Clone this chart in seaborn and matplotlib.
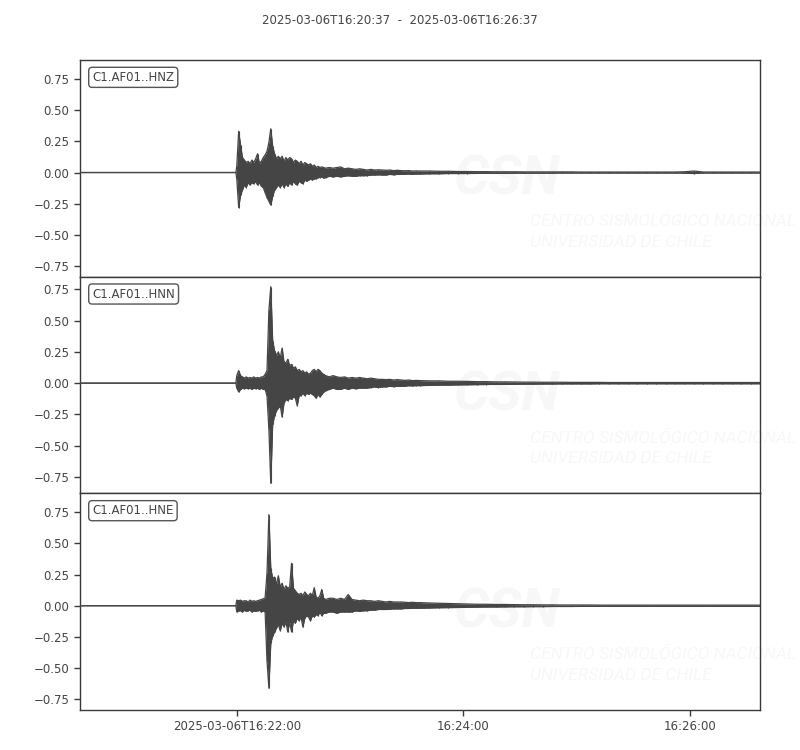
import numpy as np
import pandas as pd
import matplotlib
matplotlib.use("Agg")
import matplotlib.pyplot as plt
import seaborn as sns

# ---------------- data (seconds after 2025-03-06T16:20:37) ----------------
title = "2025-03-06T16:20:37  -  2025-03-06T16:26:37"
channels = ["C1.AF01..HNZ", "C1.AF01..HNN", "C1.AF01..HNE"]
tick_pos = [83, 203, 323]
tick_labels = ["2025-03-06T16:22:00", "16:24:00", "16:26:00"]
ytick_vals = [-0.75, -0.5, -0.25, 0.0, 0.25, 0.5, 0.75]
ylims = [(-0.833, 0.90), (-0.88, 0.85), (-0.835, 0.90)]

times = [0, 82.5,
         83, 84, 85, 86, 87, 88, 89, 90, 91, 92,
         93, 94, 95, 96, 97, 98, 99, 100, 101, 102,
         103, 104, 105, 106, 107, 108, 109, 110, 111, 112,
         113, 114, 115, 116, 117, 118, 119, 120, 121, 122,
         123, 124, 125, 126, 127, 128, 129, 130,
         132, 134, 136, 138, 140, 142, 144, 146, 148, 150,
         152, 154, 156, 158, 160, 162, 164, 166, 168, 170,
         172, 174, 176, 178, 180,
         185, 190, 195, 200, 205, 210, 215, 220, 225, 230,
         235, 240, 245, 250, 255, 260, 265, 270, 275, 280,
         285, 290, 295, 300, 305, 310, 315, 320, 325, 330,
         335, 340, 345, 350, 355, 360]

hnz_top = [0, 0,
           0.05, 0.33, 0.22, 0.12, 0.10, 0.08, 0.09, 0.07, 0.10, 0.08,
           0.11, 0.15, 0.07, 0.09, 0.12, 0.14, 0.17, 0.24, 0.35, 0.21,
           0.15, 0.11, 0.13, 0.11, 0.13, 0.09, 0.12, 0.10, 0.12, 0.11,
           0.08, 0.10, 0.09, 0.07, 0.09, 0.06, 0.08, 0.07, 0.06, 0.07,
           0.05, 0.06, 0.04, 0.05, 0.04, 0.045, 0.04, 0.035,
           0.04, 0.035, 0.04, 0.045, 0.03, 0.035, 0.03, 0.025, 0.03, 0.025,
           0.02, 0.025, 0.02, 0.022, 0.02, 0.018, 0.02, 0.015, 0.018, 0.015,
           0.014, 0.015, 0.012, 0.013, 0.012,
           0.012, 0.01, 0.01, 0.008, 0.008, 0.007, 0.007, 0.006, 0.006, 0.006,
           0.005, 0.005, 0.005, 0.005, 0.005, 0.005, 0.004, 0.004, 0.004, 0.004,
           0.004, 0.004, 0.004, 0.004, 0.004, 0.004, 0.004, 0.006, 0.012, 0.004,
           0.004, 0.004, 0.004, 0.004, 0.004, 0.004]
hnz_bot = [0, 0,
           -0.05, -0.28, -0.18, -0.14, -0.10, -0.12, -0.08, -0.10, -0.08, -0.09,
           -0.07, -0.10, -0.08, -0.11, -0.12, -0.16, -0.20, -0.23, -0.26, -0.19,
           -0.14, -0.12, -0.10, -0.12, -0.09, -0.12, -0.09, -0.11, -0.08, -0.10,
           -0.07, -0.09, -0.10, -0.07, -0.08, -0.09, -0.06, -0.07, -0.06, -0.05,
           -0.06, -0.05, -0.05, -0.04, -0.04, -0.035, -0.045, -0.04,
           -0.03, -0.035, -0.03, -0.035, -0.03, -0.025, -0.03, -0.03, -0.025, -0.025,
           -0.025, -0.02, -0.02, -0.018, -0.02, -0.02, -0.015, -0.018, -0.015, -0.015,
           -0.014, -0.012, -0.014, -0.012, -0.012,
           -0.01, -0.01, -0.008, -0.008, -0.008, -0.007, -0.006, -0.006, -0.006, -0.005,
           -0.005, -0.005, -0.005, -0.005, -0.004, -0.004, -0.004, -0.004, -0.004, -0.004,
           -0.004, -0.004, -0.004, -0.004, -0.004, -0.004, -0.004, -0.005, -0.008, -0.004,
           -0.004, -0.004, -0.004, -0.004, -0.004, -0.004]

hnn_top = [0, 0,
           0.06, 0.10, 0.06, 0.05, 0.04, 0.05, 0.04, 0.045, 0.04, 0.05,
           0.04, 0.045, 0.04, 0.05, 0.05, 0.07, 0.10, 0.58, 0.77, 0.34,
           0.26, 0.22, 0.25, 0.20, 0.28, 0.17, 0.16, 0.19, 0.14, 0.15,
           0.12, 0.13, 0.10, 0.11, 0.09, 0.10, 0.08, 0.09, 0.07, 0.08,
           0.10, 0.11, 0.09, 0.11, 0.10, 0.08, 0.07, 0.06,
           0.05, 0.06, 0.05, 0.045, 0.05, 0.04, 0.045, 0.04, 0.045, 0.04,
           0.035, 0.04, 0.035, 0.03, 0.03, 0.028, 0.03, 0.025, 0.028, 0.025,
           0.022, 0.025, 0.02, 0.022, 0.02,
           0.018, 0.018, 0.015, 0.015, 0.014, 0.012, 0.012, 0.01, 0.01, 0.009,
           0.008, 0.008, 0.007, 0.007, 0.007, 0.006, 0.006, 0.006, 0.006, 0.005,
           0.005, 0.005, 0.005, 0.005, 0.005, 0.005, 0.005, 0.005, 0.005, 0.005,
           0.005, 0.005, 0.005, 0.005, 0.005, 0.005]
hnn_bot = [0, 0,
           -0.04, -0.07, -0.05, -0.04, -0.045, -0.04, -0.045, -0.04, -0.05, -0.04,
           -0.045, -0.04, -0.05, -0.04, -0.05, -0.05, -0.10, -0.37, -0.80, -0.33,
           -0.26, -0.22, -0.20, -0.18, -0.27, -0.16, -0.13, -0.14, -0.12, -0.13,
           -0.11, -0.12, -0.18, -0.10, -0.10, -0.08, -0.10, -0.08, -0.09, -0.08,
           -0.09, -0.10, -0.12, -0.09, -0.11, -0.09, -0.07, -0.06,
           -0.05, -0.04, -0.05, -0.05, -0.04, -0.05, -0.04, -0.045, -0.04, -0.04,
           -0.04, -0.035, -0.03, -0.035, -0.03, -0.03, -0.025, -0.028, -0.025, -0.025,
           -0.025, -0.02, -0.022, -0.02, -0.02,
           -0.018, -0.016, -0.016, -0.014, -0.013, -0.012, -0.011, -0.01, -0.01, -0.009,
           -0.008, -0.008, -0.007, -0.007, -0.006, -0.006, -0.006, -0.006, -0.005, -0.005,
           -0.005, -0.005, -0.005, -0.005, -0.005, -0.005, -0.005, -0.005, -0.005, -0.005,
           -0.005, -0.005, -0.005, -0.005, -0.005, -0.005]

hne_top = [0, 0,
           0.045, 0.04, 0.045, 0.035, 0.04, 0.04, 0.03, 0.045, 0.035, 0.04,
           0.035, 0.04, 0.045, 0.05, 0.055, 0.065, 0.26, 0.73, 0.30, 0.22,
           0.23, 0.17, 0.24, 0.15, 0.18, 0.13, 0.16, 0.14, 0.15, 0.34,
           0.14, 0.12, 0.10, 0.09, 0.10, 0.08, 0.11, 0.09, 0.08, 0.10,
           0.08, 0.145, 0.07, 0.06, 0.08, 0.13, 0.06, 0.05,
           0.06, 0.06, 0.05, 0.06, 0.05, 0.09, 0.05, 0.045, 0.04, 0.045,
           0.04, 0.04, 0.035, 0.04, 0.035, 0.03, 0.035, 0.03, 0.03, 0.03,
           0.028, 0.025, 0.028, 0.025, 0.025,
           0.022, 0.02, 0.018, 0.016, 0.014, 0.012, 0.012, 0.01, 0.01, 0.009,
           0.008, 0.008, 0.007, 0.007, 0.006, 0.006, 0.006, 0.006, 0.005, 0.005,
           0.005, 0.005, 0.005, 0.005, 0.005, 0.005, 0.005, 0.005, 0.005, 0.005,
           0.005, 0.005, 0.005, 0.005, 0.005, 0.005]
hne_bot = [0, 0,
           -0.05, -0.04, -0.04, -0.05, -0.035, -0.045, -0.04, -0.035, -0.05, -0.04,
           -0.045, -0.04, -0.035, -0.05, -0.04, -0.05, -0.44, -0.66, -0.30, -0.24,
           -0.21, -0.18, -0.15, -0.20, -0.14, -0.17, -0.13, -0.21, -0.13, -0.21,
           -0.12, -0.14, -0.10, -0.12, -0.09, -0.17, -0.10, -0.08, -0.09, -0.12,
           -0.08, -0.09, -0.07, -0.08, -0.05, -0.08, -0.06, -0.06,
           -0.05, -0.05, -0.06, -0.05, -0.05, -0.05, -0.05, -0.04, -0.045, -0.04,
           -0.04, -0.035, -0.035, -0.03, -0.03, -0.03, -0.028, -0.025, -0.025, -0.025,
           -0.022, -0.022, -0.02, -0.02, -0.02,
           -0.018, -0.016, -0.015, -0.014, -0.012, -0.011, -0.01, -0.01, -0.009, -0.008,
           -0.008, -0.007, -0.007, -0.006, -0.006, -0.006, -0.005, -0.005, -0.005, -0.005,
           -0.005, -0.005, -0.005, -0.005, -0.005, -0.005, -0.005, -0.005, -0.005, -0.005,
           -0.005, -0.005, -0.005, -0.005, -0.005, -0.005]

tops = [hnz_top, hnn_top, hne_top]
bots = [hnz_bot, hnn_bot, hne_bot]

# ---------------- style ----------------
sns.set_style("ticks")
plt.rcParams["font.family"] = ["DejaVu Sans"]
plt.rcParams.update({
    "axes.edgecolor": "#3a3a3a",
    "axes.linewidth": 1.0,
    "xtick.color": "#3a3a3a",
    "ytick.color": "#3a3a3a",
    "xtick.labelcolor": "#444444",
    "ytick.labelcolor": "#444444",
    "text.color": "#444444",
})

trace_color = "#454545"
wm_color = "#f7f7f7"
wm_font = ["Liberation Sans Narrow", "Roboto", "DejaVu Sans"]

fig, axes = plt.subplots(3, 1, figsize=(8, 7.5), dpi=100, sharex=True)
fig.subplots_adjust(left=0.1, right=0.95, top=0.92, bottom=0.0533, hspace=0)

for i, ax in enumerate(axes):
    t = np.asarray(times, dtype=float)
    up = np.asarray(tops[i], dtype=float)
    lo = np.asarray(bots[i], dtype=float)
    assert len(t) == len(up) == len(lo), (i, len(t), len(up), len(lo))
    df = pd.DataFrame({"t": np.concatenate([t, t]),
                       "a": np.concatenate([up, lo]),
                       "edge": ["top"] * len(t) + ["bottom"] * len(t)})

    # watermark (very faint)
    ax.text(0.628, 0.45, "CSN", transform=ax.transAxes, fontsize=40,
            fontweight="bold", fontstyle="italic", color=wm_color,
            ha="center", va="center", zorder=0, family=wm_font)
    ax.text(0.662, 0.255, "CENTRO SISMOLÓGICO NACIONAL", transform=ax.transAxes,
            fontsize=12.5, fontstyle="italic", color=wm_color, ha="left",
            va="center", zorder=0, family=wm_font)
    ax.text(0.662, 0.16, "UNIVERSIDAD DE CHILE", transform=ax.transAxes,
            fontsize=12.5, fontstyle="italic", color=wm_color, ha="left",
            va="center", zorder=0, family=wm_font)

    # envelope of the trace: filled body + edges
    ax.fill_between(t, lo, up, color=trace_color, lw=0, zorder=2)
    ax.vlines(t, lo, up, color=trace_color, lw=0.8, zorder=2)
    sns.lineplot(data=df, x="t", y="a", units="edge", sort=False, estimator=None,
                 ax=ax, color=trace_color, lw=0.9, zorder=3, legend=False)

    ax.set_xlim(0, 360)
    ax.set_ylim(*ylims[i])
    ax.set_yticks(ytick_vals)
    ax.set_yticklabels([f"{v:.2f}".replace("-", "\u2212") for v in ytick_vals])
    ax.set_xlabel("")
    ax.set_ylabel("")
    ax.tick_params(axis="y", direction="out", length=4, width=1, labelsize=8.5)
    ax.text(0.018, 0.92, channels[i], transform=ax.transAxes, fontsize=8.5,
            ha="left", va="center", color="#444444", zorder=5,
            bbox=dict(boxstyle="round,pad=0.3", fc="white", ec="#555555", lw=1))
    if i < 2:
        ax.tick_params(axis="x", bottom=False, labelbottom=False)

axes[-1].set_xticks(tick_pos)
axes[-1].set_xticklabels(tick_labels)
axes[-1].tick_params(axis="x", direction="out", length=4, width=1, labelsize=8.5)

fig.text(0.5, 0.973, title, ha="center", va="center", fontsize=8.5, color="#444444")

fig.savefig("out.png", dpi=100)
